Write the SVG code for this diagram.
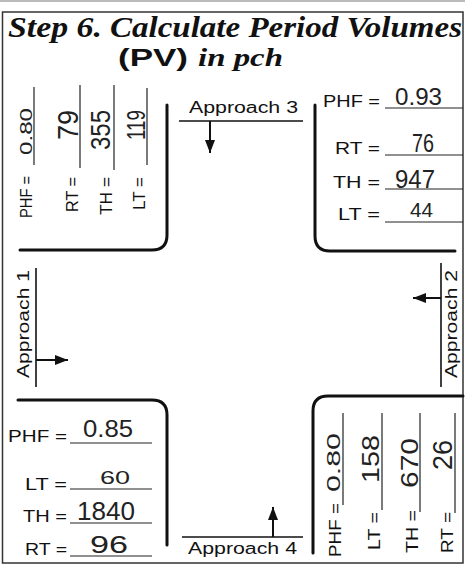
<svg xmlns="http://www.w3.org/2000/svg" width="465" height="565" viewBox="0 0 465 565">
<style>
.lbl{font-family:"Liberation Sans",Arial,sans-serif;font-size:16px;fill:#111}
.hw{font-family:"Liberation Sans",Arial,sans-serif;fill:#222}
.ul{stroke:#222;stroke-width:1.2;fill:none}
.corner{fill:none;stroke:#111;stroke-width:3;stroke-linecap:round}
.ap{stroke:#111;stroke-width:1.6}
.arr{stroke:#111;stroke-width:2;marker-end:url(#ah)}
.ttl{font-family:"Liberation Serif","Times New Roman",serif;font-weight:bold;font-style:italic;fill:#111}
</style>
<defs>
<marker id="ah" markerUnits="userSpaceOnUse" markerWidth="13" markerHeight="10" refX="13" refY="5" orient="auto">
<path d="M0,0 L13,5 L0,10 z" fill="#111"/>
</marker>
</defs>
<rect width="465" height="565" fill="#fff"/>
<line x1="0" y1="1" x2="465" y2="1" stroke="#777" stroke-width="1"/>
<rect x="2.5" y="12" width="460.5" height="551" fill="none" stroke="#333" stroke-width="1.5"/>

<g id="title">
<text class="ttl" y="37" font-size="29"><tspan x="8" textLength="94" lengthAdjust="spacingAndGlyphs">Step 6.</tspan><tspan x="110" textLength="352" lengthAdjust="spacingAndGlyphs">Calculate Period Volumes</tspan></text>
<text y="66"><tspan x="118" textLength="70" lengthAdjust="spacingAndGlyphs" font-family="Liberation Sans, Arial, sans-serif" font-weight="bold" font-size="23" fill="#111">(PV)</tspan><tspan class="ttl" x="198" font-size="26" textLength="85" lengthAdjust="spacingAndGlyphs">in pch</tspan></text>
</g>

<g id="quadrant-top-left">
<path class="corner" d="M167,105 V235 Q167,250 152,250 H20"/>
<line class="ul" x1="34" y1="87" x2="34" y2="165"/>
<line class="ul" x1="80" y1="85" x2="80" y2="168"/>
<line class="ul" x1="114" y1="85" x2="114" y2="170"/>
<line class="ul" x1="147" y1="88" x2="147" y2="165"/>
<text class="lbl" transform="translate(32,218) rotate(-90)" textLength="42" lengthAdjust="spacingAndGlyphs">PHF =</text>
<text class="lbl" transform="translate(78,212) rotate(-90)" textLength="35" lengthAdjust="spacingAndGlyphs">RT =</text>
<text class="lbl" transform="translate(112,215) rotate(-90)" textLength="38" lengthAdjust="spacingAndGlyphs">TH =</text>
<text class="lbl" transform="translate(145,210) rotate(-90)" textLength="33" lengthAdjust="spacingAndGlyphs">LT =</text>
<text class="hw" font-size="17" transform="translate(32,155) rotate(-90)" textLength="47" lengthAdjust="spacingAndGlyphs">0.80</text>
<text class="hw" font-size="29" transform="translate(78,140) rotate(-90)" textLength="30" lengthAdjust="spacingAndGlyphs">79</text>
<text class="hw" font-size="28" transform="translate(110,150) rotate(-90)" textLength="40" lengthAdjust="spacingAndGlyphs">355</text>
<text class="hw" font-size="26" transform="translate(145,140) rotate(-90)" textLength="30" lengthAdjust="spacingAndGlyphs">119</text>
</g>

<g id="quadrant-top-right">
<path class="corner" d="M315,105 V236 Q315,251 330,251 H455"/>
<line class="ul" x1="385" y1="108" x2="463" y2="108"/>
<line class="ul" x1="385" y1="155" x2="463" y2="155"/>
<line class="ul" x1="385" y1="189" x2="463" y2="189"/>
<line class="ul" x1="385" y1="222" x2="463" y2="222"/>
<text class="lbl" x="323" y="107" textLength="57" lengthAdjust="spacingAndGlyphs">PHF =</text>
<text class="lbl" x="335" y="154" textLength="45" lengthAdjust="spacingAndGlyphs">RT =</text>
<text class="lbl" x="333" y="188" textLength="47" lengthAdjust="spacingAndGlyphs">TH =</text>
<text class="lbl" x="338" y="220" textLength="42" lengthAdjust="spacingAndGlyphs">LT =</text>
<text class="hw" font-size="23" x="395" y="105" textLength="47" lengthAdjust="spacingAndGlyphs">0.93</text>
<text class="hw" font-size="26" x="412" y="152" textLength="22" lengthAdjust="spacingAndGlyphs">76</text>
<text class="hw" font-size="25" x="395" y="188" textLength="40" lengthAdjust="spacingAndGlyphs">947</text>
<text class="hw" font-size="21" x="410" y="217" textLength="23" lengthAdjust="spacingAndGlyphs">44</text>
</g>

<g id="quadrant-bottom-left">
<path class="corner" d="M18,400 H152 Q167,400 167,415 V545"/>
<line class="ul" x1="70" y1="443" x2="152" y2="443"/>
<line class="ul" x1="70" y1="489" x2="152" y2="489"/>
<line class="ul" x1="70" y1="523" x2="152" y2="523"/>
<line class="ul" x1="70" y1="556" x2="152" y2="556"/>
<text class="lbl" x="8" y="442" textLength="59" lengthAdjust="spacingAndGlyphs">PHF =</text>
<text class="lbl" x="25" y="490" textLength="42" lengthAdjust="spacingAndGlyphs">LT =</text>
<text class="lbl" x="23" y="522" textLength="44" lengthAdjust="spacingAndGlyphs">TH =</text>
<text class="lbl" x="25" y="555" textLength="42" lengthAdjust="spacingAndGlyphs">RT =</text>
<text class="hw" font-size="23" x="83" y="437" textLength="50" lengthAdjust="spacingAndGlyphs">0.85</text>
<text class="hw" font-size="18" x="100" y="484" textLength="30" lengthAdjust="spacingAndGlyphs">60</text>
<text class="hw" font-size="26" x="77" y="520" textLength="58" lengthAdjust="spacingAndGlyphs">1840</text>
<text class="hw" font-size="24" x="90" y="553" textLength="38" lengthAdjust="spacingAndGlyphs">96</text>
</g>

<g id="quadrant-bottom-right">
<path class="corner" d="M463,396 H328 Q313,396 313,411 V553"/>
<line class="ul" x1="343" y1="413" x2="343" y2="505"/>
<line class="ul" x1="382" y1="413" x2="382" y2="510"/>
<line class="ul" x1="420" y1="413" x2="420" y2="512"/>
<line class="ul" x1="455" y1="413" x2="455" y2="513"/>
<text class="lbl" transform="translate(341,557) rotate(-90)" textLength="54" lengthAdjust="spacingAndGlyphs">PHF =</text>
<text class="lbl" transform="translate(380,550) rotate(-90)" textLength="38" lengthAdjust="spacingAndGlyphs">LT =</text>
<text class="lbl" transform="translate(418,553) rotate(-90)" textLength="43" lengthAdjust="spacingAndGlyphs">TH =</text>
<text class="lbl" transform="translate(453,553) rotate(-90)" textLength="41" lengthAdjust="spacingAndGlyphs">RT =</text>
<text class="hw" font-size="18" transform="translate(340,492) rotate(-90)" textLength="59" lengthAdjust="spacingAndGlyphs">0.80</text>
<text class="hw" font-size="23" transform="translate(379,483) rotate(-90)" textLength="48" lengthAdjust="spacingAndGlyphs">158</text>
<text class="hw" font-size="24" transform="translate(418,488) rotate(-90)" textLength="50" lengthAdjust="spacingAndGlyphs">670</text>
<text class="hw" font-size="27" transform="translate(452,470) rotate(-90)" textLength="30" lengthAdjust="spacingAndGlyphs">26</text>
</g>

<g id="approach-1">
<text class="lbl" transform="translate(29,378) rotate(-90)" textLength="108" lengthAdjust="spacingAndGlyphs">Approach 1</text>
</g>
<g id="approach-2">
<text class="lbl" transform="translate(457,378) rotate(-90)" textLength="108" lengthAdjust="spacingAndGlyphs">Approach 2</text>
</g>
<g id="approach-3">
<text class="lbl" x="189" y="113" textLength="109" lengthAdjust="spacingAndGlyphs">Approach 3</text>
</g>
<g id="approach-4">
<text class="lbl" x="188" y="554" textLength="109" lengthAdjust="spacingAndGlyphs">Approach 4</text>
</g>

<g id="connectors">
<line class="ap" x1="36" y1="268" x2="36" y2="387"/>
<line class="arr" x1="36" y1="360" x2="68" y2="360"/>
<line class="ap" x1="441" y1="263" x2="441" y2="387"/>
<line class="arr" x1="441" y1="298" x2="413" y2="298"/>
<line class="ap" x1="179" y1="121" x2="303" y2="121"/>
<line class="arr" x1="210" y1="121" x2="210" y2="153"/>
<line class="ap" x1="182" y1="537" x2="303" y2="537"/>
<line class="arr" x1="273" y1="537" x2="273" y2="507"/>
</g>
</svg>
